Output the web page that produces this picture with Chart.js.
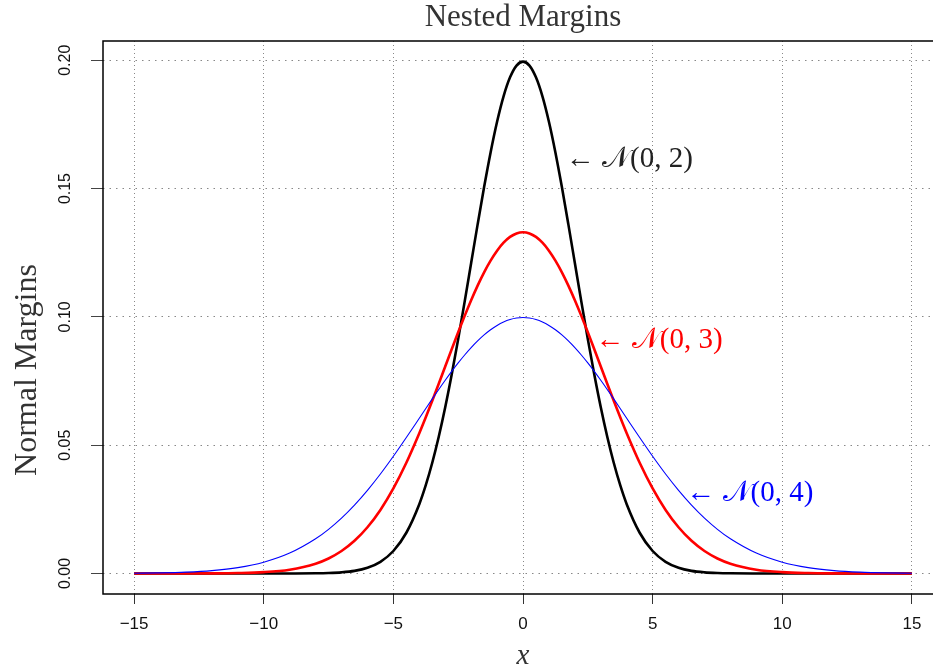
<!DOCTYPE html>
<html>
<head>
<meta charset="utf-8">
<script src="https://cdn.jsdelivr.net/npm/chart.js@4.4.1/dist/chart.umd.min.js"></script>
<style>
  html, body { margin: 0; padding: 0; background: #fff; overflow: hidden; }
  canvas { display: block; }
</style>
</head>
<body>
<canvas id="margins" width="945" height="672"></canvas>
<script>
// x grid of the curves (finer near the middle)
const xs = [-15, -14, -13, -12, -11, -10, -9, -8, -7.5, -7, -6.5, -6, -5.5, -5, -4.5, -4,
  -3.75, -3.5, -3.25, -3, -2.75, -2.5, -2.25, -2, -1.75, -1.5, -1.25, -1, -0.75, -0.5, -0.25,
  0, 0.25, 0.5, 0.75, 1, 1.25, 1.5, 1.75, 2, 2.25, 2.5, 2.75, 3, 3.25, 3.5, 3.75,
  4, 4.5, 5, 5.5, 6, 6.5, 7, 7.5, 8, 9, 10, 11, 12, 13, 14, 15];

const n02 = [0, 0, 0, 0, 0, 0, 0.00001, 0.00007, 0.00018, 0.00044, 0.00101, 0.00222, 0.00455, 0.00876, 0.01587, 0.02700,
  0.03439, 0.04314, 0.05327, 0.06476, 0.07751, 0.09132, 0.10594, 0.12099, 0.13603, 0.15057, 0.16408, 0.17603, 0.18593, 0.19333, 0.19792,
  0.19947, 0.19792, 0.19333, 0.18593, 0.17603, 0.16408, 0.15057, 0.13603, 0.12099, 0.10594, 0.09132, 0.07751, 0.06476, 0.05327, 0.04314, 0.03439,
  0.02700, 0.01587, 0.00876, 0.00455, 0.00222, 0.00101, 0.00044, 0.00018, 0.00007, 0.00001, 0, 0, 0, 0, 0, 0];

const n03 = [0, 0, 0.00001, 0.00004, 0.00016, 0.00051, 0.00148, 0.00380, 0.00584, 0.00874, 0.01272, 0.01800, 0.02477, 0.03316, 0.04317, 0.05467,
  0.06088, 0.06733, 0.07395, 0.08066, 0.08737, 0.09397, 0.10038, 0.10648, 0.11218, 0.11736, 0.12192, 0.12579, 0.12889, 0.13115, 0.13252,
  0.13298, 0.13252, 0.13115, 0.12889, 0.12579, 0.12192, 0.11736, 0.11218, 0.10648, 0.10038, 0.09397, 0.08737, 0.08066, 0.07395, 0.06733, 0.06088,
  0.05467, 0.04317, 0.03316, 0.02477, 0.01800, 0.01272, 0.00874, 0.00584, 0.00380, 0.00148, 0.00051, 0.00016, 0.00004, 0.00001, 0, 0];

const n04 = [0.00009, 0.00022, 0.00051, 0.00111, 0.00227, 0.00438, 0.00793, 0.01350, 0.01720, 0.02157, 0.02664, 0.03238, 0.03875, 0.04566, 0.05297, 0.06049,
  0.06427, 0.06802, 0.07170, 0.07528, 0.07874, 0.08204, 0.08514, 0.08802, 0.09063, 0.09296, 0.09498, 0.09667, 0.09800, 0.09896, 0.09954,
  0.09974, 0.09954, 0.09896, 0.09800, 0.09667, 0.09498, 0.09296, 0.09063, 0.08802, 0.08514, 0.08204, 0.07874, 0.07528, 0.07170, 0.06802, 0.06427,
  0.06049, 0.05297, 0.04566, 0.03875, 0.03238, 0.02664, 0.02157, 0.01720, 0.01350, 0.00793, 0.00438, 0.00227, 0.00111, 0.00051, 0.00022, 0.00009];

const xTicks = [-15, -10, -5, 0, 5, 10, 15];
const yTicks = [0, 0.05, 0.10, 0.15, 0.20];

// curve labels, placed in data coordinates
const labelText = ['\u2190 \uD835\uDCA9(0, 2)', '\u2190 \uD835\uDCA9(0, 3)', '\u2190 \uD835\uDCA9(0, 4)'];
const labelX = [1.65, 2.8, 6.3];
const labelY = [0.1612, 0.0908, 0.0314];
const labelColor = ['#222', '#ff0000', '#0000ff'];

function pts(ys) {
  return xs.map(function(x, i) { return { x: x, y: ys[i] }; });
}

const SERIF = '"Liberation Serif", "DejaVu Serif", serif';
const SANS = '"Liberation Sans", Arial, sans-serif';

const decorations = {
  id: 'decorations',
  beforeDraw(chart) {
    const ctx = chart.ctx;
    ctx.save();
    ctx.fillStyle = '#fff';
    ctx.fillRect(0, 0, chart.width, chart.height);
    ctx.restore();
  },
  afterDatasetsDraw(chart) {
    const ctx = chart.ctx;
    const a = chart.chartArea;
    const xs_ = chart.scales.x, ys_ = chart.scales.y;
    ctx.save();

    // curve labels
    ctx.font = '29px ' + SERIF;
    ctx.textAlign = 'left';
    ctx.textBaseline = 'middle';
    for (let i = 0; i < labelText.length; i++) {
      ctx.fillStyle = labelColor[i];
      ctx.fillText(labelText[i], xs_.getPixelForValue(labelX[i]), ys_.getPixelForValue(labelY[i]));
    }

    // box
    ctx.strokeStyle = '#000';
    ctx.lineWidth = 1.5;
    ctx.strokeRect(a.left, a.top, a.right - a.left, a.bottom - a.top);

    // y tick labels, rotated like R's
    ctx.fillStyle = '#111';
    ctx.font = '16px ' + SANS;
    ctx.textAlign = 'center';
    ctx.textBaseline = 'middle';
    yTicks.forEach(function(v) {
      ctx.save();
      ctx.translate(66, ys_.getPixelForValue(v));
      ctx.rotate(-Math.PI / 2);
      ctx.fillText(v.toFixed(2), 0, 0);
      ctx.restore();
    });

    // titles
    ctx.fillStyle = '#333';
    ctx.font = '31px ' + SERIF;
    ctx.fillText('Nested Margins', (a.left + a.right) / 2, 18);

    ctx.font = 'italic 29px ' + SERIF;
    ctx.fillText('x', (a.left + a.right) / 2, 656);

    ctx.save();
    ctx.font = '32px ' + SERIF;
    ctx.translate(28, 370);
    ctx.rotate(-Math.PI / 2);
    ctx.fillText('Normal Margins', 0, 0);
    ctx.restore();

    ctx.restore();
  }
};

new Chart(document.getElementById('margins'), {
  type: 'line',
  data: {
    datasets: [{
      label: 'N(0,2)',
      data: pts(n02),
      borderColor: '#000',
      borderWidth: 2.6,
      order: 3
    }, {
      label: 'N(0,3)',
      data: pts(n03),
      borderColor: '#ff0000',
      borderWidth: 2.6,
      order: 2
    }, {
      label: 'N(0,4)',
      data: pts(n04),
      borderColor: '#0000ff',
      borderWidth: 1.1,
      order: 1
    }]
  },
  options: {
    responsive: false,
    animation: false,
    events: [],
    layout: { padding: { top: 41, right: 2, left: 0, bottom: 0 } },
    elements: {
      point: { radius: 0 },
      line: { cubicInterpolationMode: 'monotone', fill: false }
    },
    plugins: {
      legend: { display: false },
      tooltip: { enabled: false },
      title: { display: false }
    },
    scales: {
      x: {
        type: 'linear',
        min: -16.2,
        max: 16.2,
        afterBuildTicks: function(scale) {
          scale.ticks = xTicks.map(function(v) { return { value: v }; });
        },
        afterFit: function(scale) { scale.height = 78; },
        border: { display: false, dash: [1, 3] },
        grid: {
          color: '#888',
          lineWidth: 1,
          drawTicks: true,
          tickLength: 10,
          tickColor: '#333',
          tickWidth: 1,
          tickBorderDash: []
        },
        ticks: {
          color: '#111',
          font: { family: SANS, size: 17 },
          padding: 10,
          maxRotation: 0,
          callback: function(v) { return v < 0 ? '\u2212' + Math.abs(v) : String(v); }
        }
      },
      y: {
        type: 'linear',
        min: -0.008,
        max: 0.2075,
        afterBuildTicks: function(scale) {
          scale.ticks = yTicks.map(function(v) { return { value: v }; });
        },
        afterFit: function(scale) { scale.width = 103; },
        border: { display: false, dash: [1.5, 5] },
        grid: {
          color: '#888',
          lineWidth: 1,
          drawTicks: true,
          tickLength: 12,
          tickColor: '#444',
          tickWidth: 1,
          tickBorderDash: []
        },
        ticks: { display: false }
      }
    }
  },
  plugins: [decorations]
});
</script>
</body>
</html>
